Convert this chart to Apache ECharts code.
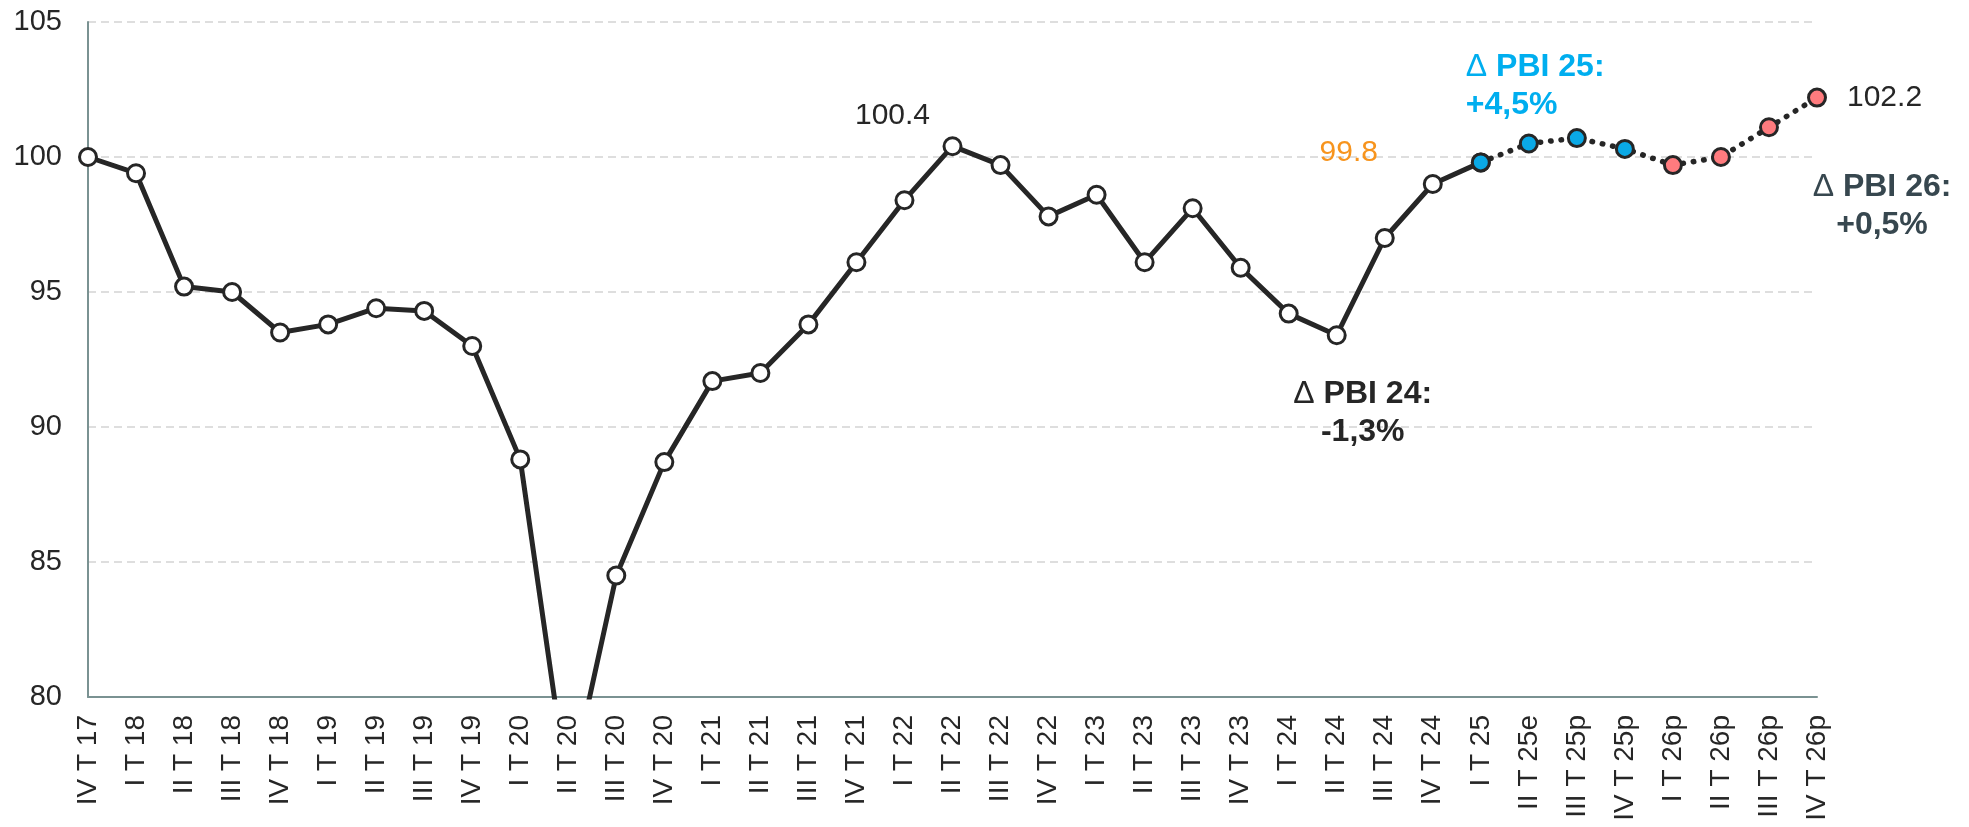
<!DOCTYPE html>
<html>
<head>
<meta charset="utf-8">
<script src="https://cdn.jsdelivr.net/npm/echarts@6/dist/echarts.min.js"></script>
<style>
  html, body { margin: 0; padding: 0; background: #fff; }
  #main { width: 1969px; height: 827px; }
</style>
</head>
<body>
<div id="main"></div>
<script>
// trimestres
var trimestres = ['IV T 17', 'I T 18', 'II T 18', 'III T 18', 'IV T 18', 'I T 19', 'II T 19', 'III T 19', 'IV T 19',
  'I T 20', 'II T 20', 'III T 20', 'IV T 20', 'I T 21', 'II T 21', 'III T 21', 'IV T 21',
  'I T 22', 'II T 22', 'III T 22', 'IV T 22', 'I T 23', 'II T 23', 'III T 23', 'IV T 23',
  'I T 24', 'II T 24', 'III T 24', 'IV T 24', 'I T 25', 'II T 25e', 'III T 25p', 'IV T 25p',
  'I T 26p', 'II T 26p', 'III T 26p', 'IV T 26p'];

// serie observada (IV T 17 = 100)
var observado = [100.0, 99.4, 95.2, 95.0, 93.5, 93.8, 94.4, 94.3, 93.0,
  88.8, 76.4, 84.5, 88.7, 91.7, 92.0, 93.8, 96.1,
  98.4, 100.4, 99.7, 97.8, 98.6, 96.1, 98.1, 95.9,
  94.2, 93.4, 97.0, 99.0, 99.8];

// proyeccion desde I T 25
var proyeccion = [99.8, 100.5, 100.7, 100.3, 99.7, 100.0, 101.1, 102.2];

var ejeY = { min: 80, max: 105, intervalo: 5 };

var notas = {
  pbi24: ['Δ', 'PBI 24:', '-1,3%'],
  pbi25: ['Δ', 'PBI 25:', '+4,5%'],
  pbi26: ['Δ', 'PBI 26:', '+0,5%']
};

var FONT = 'Arial, "Liberation Sans", sans-serif';
var DARK = '#262626';
var AZUL = '#0aa9e6';
var ROSA = '#ff7b7e';

var inicioProy = trimestres.length - proyeccion.length;
var dataObs = trimestres.map(function (t, i) { return i < observado.length ? observado[i] : null; });
var dataProy = trimestres.map(function (t, i) {
  if (i < inicioProy) return null;
  var esp = t.indexOf('25') >= 0;
  return {
    value: proyeccion[i - inicioProy],
    itemStyle: { color: esp ? AZUL : ROSA }
  };
});

var ultimo = trimestres.length - 1;
var idxMax = 18;   // II T 22
var idxMin = 26;   // II T 24
var idxI25 = observado.length - 1;

function notaRich(n, color) {
  return {
    formatter: '{d|' + n[0] + ' }{b|' + n[1] + '}\n{b|' + n[2] + '}',
    rich: {
      d: { fontFamily: FONT, fontSize: 32, fontWeight: 'normal', color: color, lineHeight: 38 },
      b: { fontFamily: FONT, fontSize: 32, fontWeight: 'bold', color: color, lineHeight: 38 }
    }
  };
}

function mp(idx, valor, label) {
  return {
    coord: [trimestres[idx], valor],
    symbol: 'circle',
    symbolSize: 0,
    label: Object.assign({ show: true, position: 'inside', fontFamily: FONT }, label)
  };
}

var myChart = echarts.init(document.getElementById('main'));
var options = {
  animation: false,
  backgroundColor: '#fff',
  grid: { left: 88, right: 152, top: 22, bottom: 130 },
  xAxis: {
    type: 'category',
    data: trimestres,
    boundaryGap: false,
    axisLine: { lineStyle: { color: '#7a9292', width: 2 } },
    axisTick: { show: false },
    axisLabel: { interval: 0, rotate: 90, fontSize: 28, fontFamily: FONT, color: DARK, margin: 18 }
  },
  yAxis: {
    type: 'value',
    min: ejeY.min,
    max: ejeY.max,
    interval: ejeY.intervalo,
    axisLine: { show: true, lineStyle: { color: '#7a9292', width: 2 } },
    axisTick: { show: false },
    axisLabel: { fontSize: 29, fontFamily: FONT, color: DARK, margin: 26 },
    splitLine: { lineStyle: { color: '#d3d3d3', width: 1.5, type: [8, 5] } }
  },
  series: [
    {
      type: 'line',
      data: dataObs,
      z: 2,
      symbol: 'circle',
      symbolSize: 17,
      showAllSymbol: true,
      lineStyle: { color: DARK, width: 5 },
      itemStyle: { color: '#fff', borderColor: DARK, borderWidth: 3 },
      markPoint: {
        silent: true,
        data: [
          mp(idxMax, observado[idxMax], { formatter: String(observado[idxMax]), fontSize: 30, color: DARK, align: 'center', verticalAlign: 'middle', offset: [-60, -30] }),
          mp(idxI25, observado[idxI25], { formatter: String(observado[idxI25]), fontSize: 30, color: '#f7941d', align: 'center', verticalAlign: 'middle', offset: [-132, -10] }),
          mp(idxMin, observado[idxMin], Object.assign(notaRich(notas.pbi24, DARK), { align: 'center', verticalAlign: 'middle', offset: [26, 78] }))
        ]
      }
    },
    {
      type: 'line',
      data: dataProy,
      z: 3,
      symbol: 'circle',
      symbolSize: 17,
      showAllSymbol: true,
      lineStyle: { color: DARK, width: 5.5, type: [0.5, 10], cap: 'round' },
      itemStyle: { borderColor: DARK, borderWidth: 3 },
      markPoint: {
        silent: true,
        data: [
          mp(ultimo, proyeccion[proyeccion.length - 1], { formatter: String(proyeccion[proyeccion.length - 1]), fontSize: 30, color: DARK, align: 'left', verticalAlign: 'middle', offset: [30, 0] }),
          mp(inicioProy, proyeccion[0], Object.assign(notaRich(notas.pbi25, '#00aeef'), { align: 'left', verticalAlign: 'middle', offset: [-15, -76] })),
          mp(ultimo, proyeccion[proyeccion.length - 1], Object.assign(notaRich(notas.pbi26, '#37474f'), { align: 'center', verticalAlign: 'middle', offset: [65, 109] }))
        ]
      }
    }
  ]
};
myChart.setOption(options);
</script>
</body>
</html>
